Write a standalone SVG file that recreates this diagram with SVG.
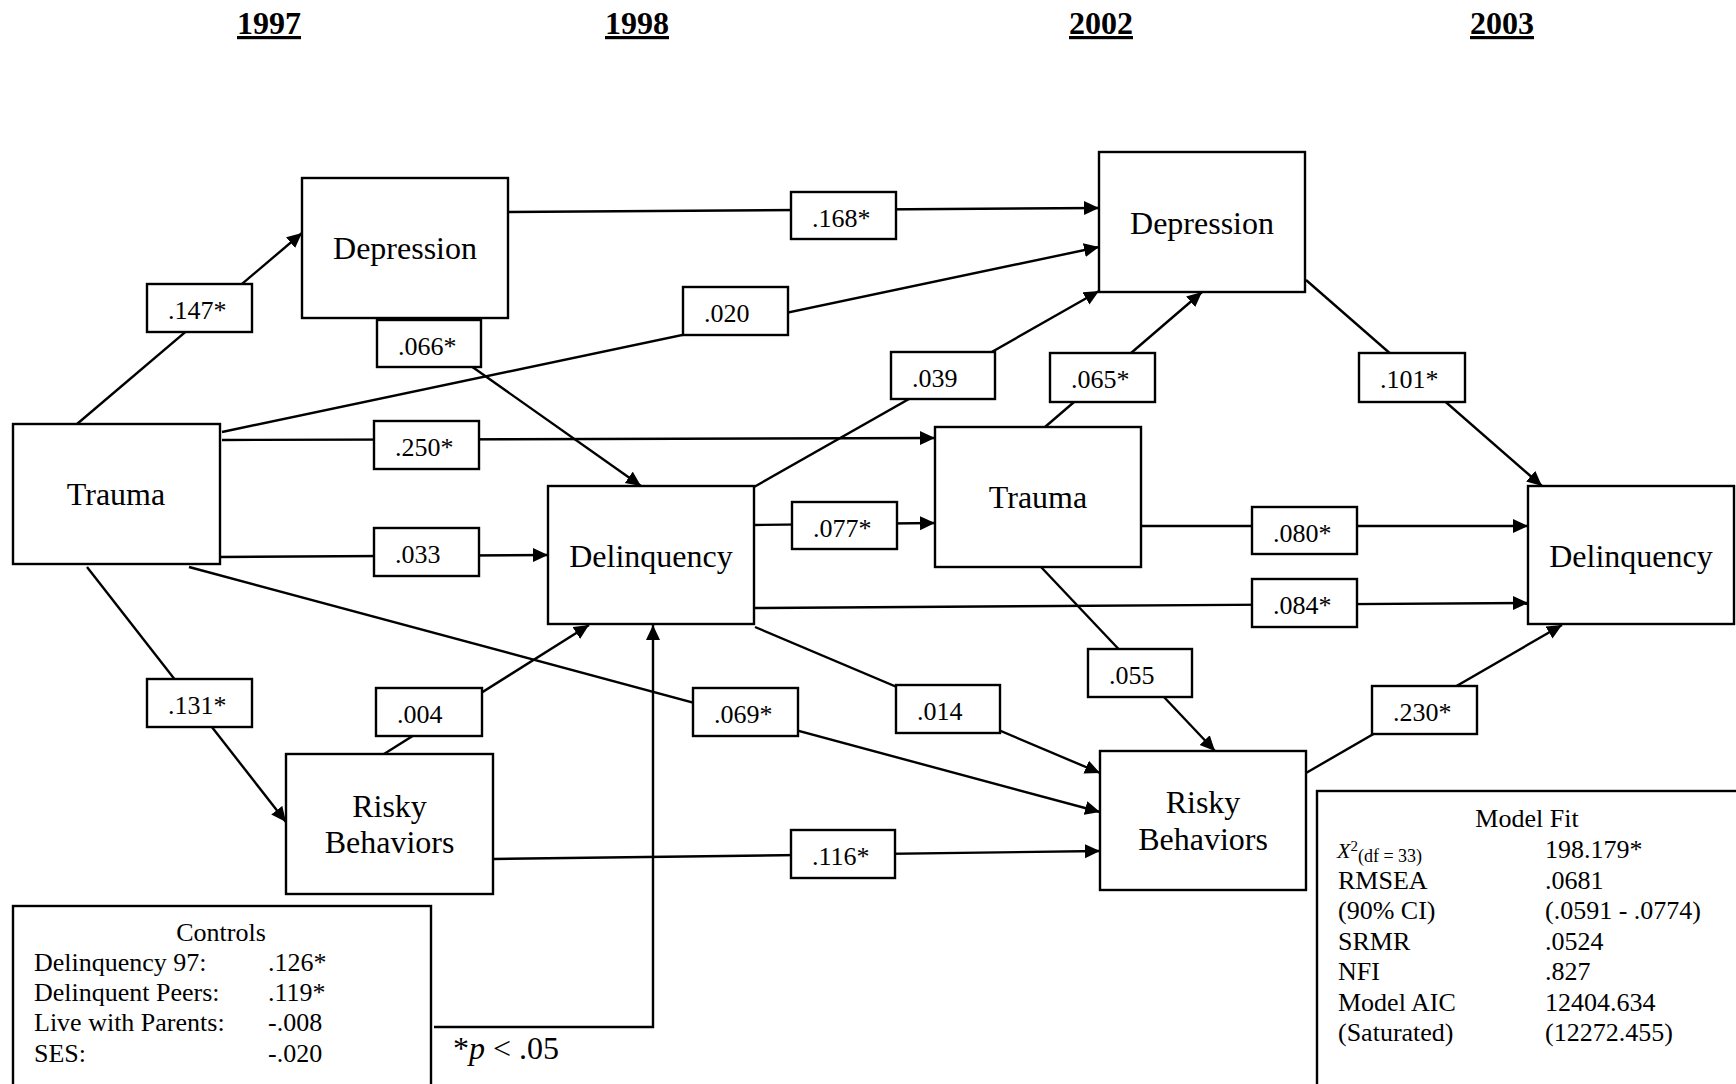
<svg xmlns="http://www.w3.org/2000/svg" width="1736" height="1084" viewBox="0 0 1736 1084">
<defs>
<style>
text{font-family:"Liberation Serif","Times New Roman",serif;fill:#000}
.yr{font-size:32px;font-weight:bold;text-anchor:middle;text-decoration:underline}
.node rect{fill:#fff;stroke:#000;stroke-width:2.4}
.node text{font-size:32px;text-anchor:middle}
.conn path{fill:none;stroke:#000;stroke-width:2.4}
.arr{marker-end:url(#ah)}
.lbl rect{fill:#fff;stroke:#000;stroke-width:2.4}
.lbl text{font-size:26px}
.box rect{fill:#fff;stroke:#000;stroke-width:2.4}
.box text{font-size:26px}
.mid{text-anchor:middle}
</style>
<marker id="ah" markerUnits="userSpaceOnUse" markerWidth="16" markerHeight="15" refX="15" refY="7" orient="auto" viewBox="0 0 16 15">
<path d="M0,0 L15,7 L0,14 z" fill="#000"/>
</marker>
</defs>
<rect width="1736" height="1084" fill="#fff"/>

<g id="years">
<text class="yr" x="269" y="34">1997</text>
<text class="yr" x="637" y="34">1998</text>
<text class="yr" x="1101" y="34">2002</text>
<text class="yr" x="1502" y="34">2003</text>
</g>

<g id="trauma97" class="node"><rect x="13" y="424" width="207" height="140"/><text x="116" y="505">Trauma</text></g>
<g id="depression98" class="node"><rect x="302" y="178" width="206" height="140"/><text x="405" y="259">Depression</text></g>
<g id="delinquency98" class="node"><rect x="548" y="486" width="206" height="138"/><text x="651" y="567">Delinquency</text></g>
<g id="risky98" class="node"><rect x="286" y="754" width="207" height="140"/><text x="389.5" y="817">Risky</text><text x="389.5" y="853">Behaviors</text></g>
<g id="depression02" class="node"><rect x="1099" y="152" width="206" height="140"/><text x="1202" y="234">Depression</text></g>
<g id="trauma02" class="node"><rect x="935" y="427" width="206" height="140"/><text x="1038" y="508">Trauma</text></g>
<g id="risky02" class="node"><rect x="1100" y="751" width="206" height="139"/><text x="1203" y="813">Risky</text><text x="1203" y="850">Behaviors</text></g>
<g id="delinquency03" class="node"><rect x="1528" y="486" width="206" height="138"/><text x="1631" y="567">Delinquency</text></g>

<g id="connectors" class="conn">
<path class="arr" d="M77,424 L302,233"/>
<path class="arr" d="M508,212 L1099,208"/>
<path class="arr" d="M222,432 L1099,247"/>
<path class="arr" d="M222,440 L935,438"/>
<path class="arr" d="M220,557 L548,555"/>
<path class="arr" d="M403,318 L641,486"/>
<path class="arr" d="M87,567 L286,822"/>
<path class="arr" d="M189,567 L1100,812"/>
<path class="arr" d="M384,754 L589,625"/>
<path class="arr" d="M493,859 L1100,851"/>
<path class="arr" d="M754,487 L1099,291"/>
<path class="arr" d="M754,525 L935,523"/>
<path class="arr" d="M754,608 L1528,603"/>
<path class="arr" d="M755,627 L1100,773"/>
<path class="arr" d="M1045,427 L1202,292"/>
<path class="arr" d="M1141,526 L1528,526"/>
<path class="arr" d="M1041,567 L1215,751"/>
<path class="arr" d="M1306,280 L1542,486"/>
<path class="arr" d="M1306,773 L1562,625"/>
<path class="arr" d="M434,1027 H653 V625"/>
</g>

<g id="edge-labels" class="lbl">
<g><rect x="147" y="284" width="105" height="48"/><text x="168" y="319">.147*</text></g>
<g><rect x="377" y="320" width="104" height="47"/><text x="398" y="355">.066*</text></g>
<g><rect x="374" y="421" width="105" height="48"/><text x="395" y="456">.250*</text></g>
<g><rect x="374" y="528" width="105" height="48"/><text x="395" y="563">.033</text></g>
<g><rect x="791" y="192" width="105" height="47"/><text x="812" y="227">.168*</text></g>
<g><rect x="683" y="287" width="105" height="48"/><text x="704" y="322">.020</text></g>
<g><rect x="891" y="352" width="104" height="47"/><text x="912" y="387">.039</text></g>
<g><rect x="1050" y="353" width="105" height="49"/><text x="1071" y="388">.065*</text></g>
<g><rect x="1359" y="353" width="106" height="49"/><text x="1380" y="388">.101*</text></g>
<g><rect x="792" y="502" width="105" height="47"/><text x="813" y="537">.077*</text></g>
<g><rect x="1252" y="507" width="105" height="47"/><text x="1273" y="542">.080*</text></g>
<g><rect x="1252" y="579" width="105" height="48"/><text x="1273" y="614">.084*</text></g>
<g><rect x="147" y="679" width="105" height="48"/><text x="168" y="714">.131*</text></g>
<g><rect x="376" y="688" width="106" height="48"/><text x="397" y="723">.004</text></g>
<g><rect x="693" y="688" width="105" height="48"/><text x="714" y="723">.069*</text></g>
<g><rect x="896" y="685" width="104" height="48"/><text x="917" y="720">.014</text></g>
<g><rect x="1088" y="649" width="104" height="48"/><text x="1109" y="684">.055</text></g>
<g><rect x="1372" y="686" width="105" height="48"/><text x="1393" y="721">.230*</text></g>
<g><rect x="791" y="830" width="104" height="48"/><text x="812" y="865">.116*</text></g>
</g>

<g id="controls" class="box">
<rect x="13" y="906" width="418" height="200"/>
<text class="mid" x="221" y="941">Controls</text>
<text x="34" y="971">Delinquency 97:</text><text x="268" y="971">.126*</text>
<text x="34" y="1001">Delinquent Peers:</text><text x="268" y="1001">.119*</text>
<text x="34" y="1031">Live with Parents:</text><text x="268" y="1031">-.008</text>
<text x="34" y="1062">SES:</text><text x="268" y="1062">-.020</text>
</g>

<g id="significance">
<text x="453" y="1059" style="font-size:32px">*<tspan font-style="italic">p</tspan> &lt; .05</text>
</g>

<g id="model-fit" class="box">
<rect x="1317" y="791" width="440" height="300"/>
<text class="mid" x="1527" y="827">Model Fit</text>
<text x="1337" y="858"><tspan font-style="italic" font-size="22">X</tspan><tspan font-size="15" dy="-7">2</tspan><tspan font-size="18" dy="11">(df = 33)</tspan></text><text x="1545" y="858">198.179*</text>
<text x="1338" y="888.5">RMSEA</text><text x="1545" y="888.5">.0681</text>
<text x="1338" y="919">(90% CI)</text><text x="1545" y="919">(.0591 - .0774)</text>
<text x="1338" y="949.5">SRMR</text><text x="1545" y="949.5">.0524</text>
<text x="1338" y="980">NFI</text><text x="1545" y="980">.827</text>
<text x="1338" y="1010.5">Model AIC</text><text x="1545" y="1010.5">12404.634</text>
<text x="1338" y="1041">(Saturated)</text><text x="1545" y="1041">(12272.455)</text>
</g>
</svg>
